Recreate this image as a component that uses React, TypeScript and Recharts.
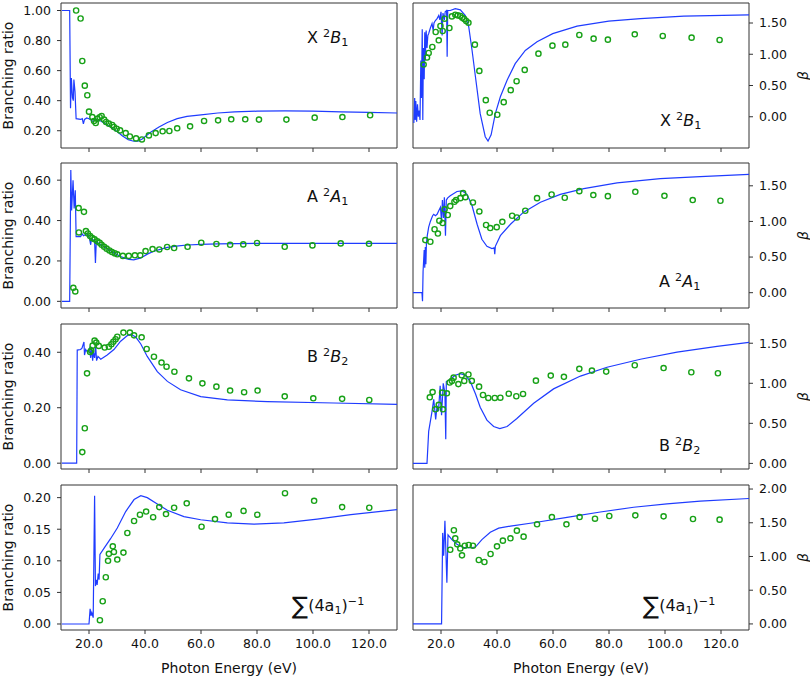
import React from 'react';
import { ComposedChart, Line, Scatter, XAxis, YAxis, ReferenceArea, Label } from 'recharts';

// ---------- Shared axis values ----------
const xTicks = [20, 40, 60, 80, 100, 120];
const xDomain = [10, 130];

// ---------- X 2B1 : branching ratio ----------
const xBrLine = [[10.3,1.0],[13.1,1.0],[13.4,0.35],[13.7,0.55],[14.1,0.42],[14.4,0.40],[14.6,0.54],[15.0,0.46],[15.4,0.28],[17.0,0.275],[17.6,0.28],[18.0,0.245],[18.4,0.275],[19.2,0.285],[20.0,0.28],[20.8,0.27],[21.5,0.26],[22.2,0.28],[23,0.27],[24.2,0.265],[26,0.245],[28,0.22],[30,0.195],[32,0.165],[34,0.14],[36,0.13],[37.5,0.13],[39,0.145],[42,0.19],[45,0.225],[48,0.255],[51.5,0.28],[55,0.295],[60,0.305],[66,0.318],[72,0.325],[80,0.33],[90,0.332],[100,0.33],[110,0.326],[120,0.322],[130,0.318]];
const xBrPts = [[15.4,1.0],[17.0,0.947],[17.6,0.664],[18.5,0.50],[19.4,0.436],[20.0,0.327],[21.2,0.291],[21.8,0.265],[22.4,0.251],[23.0,0.28],[23.8,0.29],[24.5,0.298],[25.4,0.274],[26.1,0.258],[27.1,0.247],[28.3,0.238],[28.9,0.225],[29.9,0.213],[31.1,0.202],[33.1,0.184],[34.6,0.162],[36.8,0.149],[38.9,0.142],[41.4,0.169],[43.8,0.184],[46.3,0.196],[48.7,0.198],[51.5,0.216],[56.1,0.229],[61.1,0.265],[66.1,0.269],[70.8,0.276],[75.8,0.276],[80.7,0.274],[90.5,0.274],[100.6,0.287],[110.5,0.291],[120.4,0.303]];
const xBrTicks = [0.2, 0.4, 0.6, 0.8, 1.0];

// ---------- X 2B1 : beta ----------
const xBetaLine = [[10.3,-0.1],[10.6,0.3],[10.8,-0.05],[11.0,0.25],[11.3,-0.08],[11.6,0.2],[11.9,0.0],[12.2,0.1],[12.5,-0.05],[12.8,0.9],[13.0,0.3],[13.3,1.4],[13.5,-0.05],[13.7,1.1],[14.0,0.6],[14.2,1.35],[14.4,0.9],[14.7,1.38],[15.0,1.1],[15.3,1.3],[15.6,1.33],[16.2,1.42],[16.8,1.49],[17.2,1.38],[17.5,1.5],[18.0,1.54],[18.6,1.57],[19.2,1.62],[19.6,1.55],[20.0,1.68],[20.4,1.3],[20.7,1.66],[21.2,1.55],[21.5,1.68],[22.0,1.70],[22.2,0.96],[22.4,1.70],[23.3,1.70],[25.1,1.73],[26.9,1.71],[28.7,1.62],[29.9,1.44],[31.1,1.06],[32.3,0.64],[34,0.05],[35.8,-0.32],[36.8,-0.39],[37.9,-0.29],[39.4,0.05],[41.2,0.32],[43.6,0.585],[46.5,0.85],[50.1,1.06],[54.3,1.2],[59.9,1.33],[68.6,1.45],[79.9,1.53],[91.2,1.57],[106.7,1.61],[130,1.63]];
const xBetaPts = [[13.8,0.835],[15.0,0.947],[15.6,1.02],[16.9,1.117],[18.1,1.356],[19.2,1.223],[19.8,1.452],[20.6,1.372],[21.3,1.569],[23.0,1.42],[23.9,1.606],[25.1,1.633],[26.0,1.622],[26.9,1.612],[27.6,1.585],[28.3,1.564],[29.0,1.532],[29.8,1.505],[32.1,1.154],[33.7,0.734],[36.0,0.266],[37.4,0.064],[40.1,0.032],[42.4,0.234],[44.9,0.426],[47.0,0.569],[49.9,0.75],[54.8,1.01],[59.8,1.138],[64.4,1.154],[69.4,1.309],[74.5,1.25],[79.6,1.234],[89.2,1.319],[99.2,1.293],[109.5,1.266],[119.5,1.229]];

// ---------- A 2A1 : branching ratio ----------
const aBrLine = [[10.3,0],[13.1,0],[13.5,0.65],[13.8,0.45],[14.3,0.60],[14.7,0.46],[15.1,0.55],[15.4,0.32],[17.0,0.32],[17.5,0.335],[18.0,0.325],[19.4,0.335],[20.2,0.31],[20.6,0.28],[20.9,0.31],[22.0,0.30],[22.3,0.19],[22.6,0.295],[24.2,0.28],[26,0.265],[27.7,0.25],[29.5,0.235],[31.3,0.222],[33,0.213],[34.3,0.208],[36,0.205],[38.5,0.215],[41,0.235],[43.2,0.248],[46,0.26],[48,0.267],[52,0.275],[55.1,0.279],[60,0.282],[66,0.285],[80,0.287],[100,0.287],[130,0.287]];
const aBrPts = [[14.4,0.067],[15.1,0.049],[16.3,0.462],[18.2,0.443],[16.4,0.341],[18.9,0.348],[19.6,0.336],[20.4,0.323],[21.2,0.313],[22.0,0.307],[23.0,0.297],[23.8,0.29],[24.5,0.28],[25.4,0.27],[26.3,0.261],[27.3,0.252],[28.2,0.244],[29.2,0.238],[30.1,0.233],[32.1,0.225],[34.2,0.225],[36.4,0.228],[38.3,0.228],[40.2,0.249],[42.7,0.259],[45.1,0.257],[47.9,0.269],[50.4,0.264],[55.2,0.27],[60.1,0.29],[65.5,0.284],[70.4,0.28],[75.1,0.282],[80.0,0.289],[89.9,0.27],[99.8,0.277],[109.9,0.287],[120.0,0.285]];
const aBrTicks = [0, 0.2, 0.4, 0.6];

// ---------- A 2A1 : beta ----------
const aBetaLine = [[10,0],[13.2,0],[13.4,-0.12],[13.6,0.3],[14.0,0.6],[14.2,0.35],[14.4,0.64],[14.6,0.4],[14.8,0.7],[15.1,0.8],[15.6,0.92],[16.2,1.0],[17.0,1.08],[17.4,1.10],[18.0,1.08],[18.6,1.10],[19.2,1.15],[19.8,1.2],[20.2,1.0],[20.5,1.3],[20.9,1.05],[21.2,1.34],[21.6,0.8],[21.9,1.3],[22.4,1.33],[23.3,1.36],[25.7,1.42],[27.5,1.43],[29.3,1.38],[31.1,1.22],[32.9,0.96],[34.6,0.75],[36.4,0.65],[38.2,0.62],[39.0,0.63],[39.2,0.54],[39.4,0.65],[41.2,0.80],[44.8,0.96],[49.5,1.13],[55.5,1.27],[62.6,1.38],[71,1.46],[82.9,1.54],[98.3,1.60],[112.6,1.63],[130,1.66]];
const aBetaPts = [[14.4,0.738],[16.2,0.715],[17.7,0.89],[18.9,0.83],[19.4,1.01],[20.6,0.977],[21.3,1.17],[22.4,1.09],[23.3,1.215],[24.8,1.276],[25.4,1.30],[26.9,1.327],[27.9,1.397],[28.7,1.34],[31.4,1.266],[33.7,1.14],[36.1,0.95],[37.6,0.907],[39.9,0.92],[41.9,0.995],[45.4,1.08],[47.1,1.056],[50.1,1.15],[54.3,1.327],[59.5,1.378],[64.2,1.332],[69.4,1.425],[74.4,1.37],[79.6,1.355],[89.4,1.416],[99.8,1.36],[109.9,1.30],[119.8,1.29]];

// ---------- B 2B2 : branching ratio ----------
const bBrLine = [[10.3,0],[15.6,0],[15.8,0.408],[17.0,0.41],[17.5,0.415],[18.2,0.437],[18.4,0.39],[18.8,0.41],[19.5,0.40],[20.2,0.415],[20.6,0.38],[20.9,0.42],[21.3,0.37],[21.6,0.40],[22.0,0.38],[22.4,0.42],[22.7,0.37],[23.2,0.385],[24.2,0.375],[26.5,0.39],[28.9,0.41],[31.3,0.44],[33.7,0.46],[34.9,0.465],[36.7,0.455],[38.5,0.43],[40.8,0.385],[44.4,0.33],[48,0.295],[52.7,0.265],[59.9,0.24],[69.4,0.228],[83.7,0.222],[107.5,0.217],[130,0.212]];
const bBrPts = [[17.6,0.040],[18.5,0.126],[19.3,0.324],[20.4,0.401],[20.8,0.406],[21.3,0.424],[22.0,0.442],[22.6,0.435],[23.5,0.423],[25.6,0.417],[27.1,0.42],[28.0,0.429],[28.7,0.438],[29.5,0.447],[30.1,0.456],[32.3,0.471],[34.6,0.471],[36.1,0.461],[38.8,0.454],[40.6,0.412],[43.2,0.384],[45.9,0.363],[47.7,0.348],[50.5,0.33],[55.7,0.306],[60.5,0.288],[65.5,0.276],[70.4,0.262],[75.4,0.256],[80.2,0.262],[89.9,0.241],[100.1,0.234],[110.4,0.232],[120.1,0.228]];
const bBrTicks = [0, 0.2, 0.4];

// ---------- B 2B2 : beta ----------
const bBetaLine = [[10,0],[15,0],[15.6,0.4],[16.8,0.65],[17.4,0.8],[18.1,0.55],[18.6,0.72],[19.1,0.65],[19.7,0.97],[20.2,0.6],[20.8,1.0],[21.4,0.88],[21.7,0.3],[21.9,1.02],[23.3,1.05],[25.1,1.10],[26.9,1.12],[28.7,1.10],[30.5,1.02],[32.3,0.87],[34,0.70],[36.4,0.54],[38.8,0.46],[41,0.435],[43.6,0.46],[47.1,0.56],[53.1,0.75],[60.2,0.93],[69.8,1.09],[79.3,1.20],[91.2,1.30],[104.3,1.39],[118.6,1.46],[130,1.51]];
const bBetaPts = [[16.0,0.825],[17.0,0.89],[18.0,0.675],[19.2,0.73],[20.4,0.883],[20.7,0.675],[22.1,0.875],[23.1,1.01],[23.9,1.03],[24.5,1.07],[26.2,0.99],[27.4,1.10],[28.3,1.03],[29.8,1.11],[31.0,1.03],[33.6,0.958],[35.0,0.854],[36.9,0.817],[39.2,0.817],[41.2,0.82],[44.2,0.87],[46.9,0.838],[49.3,0.867],[53.9,1.033],[59.2,1.096],[63.9,1.08],[69.4,1.18],[73.9,1.158],[79.0,1.146],[89.2,1.225],[99.5,1.19],[109.4,1.138],[118.9,1.125]];

// ---------- Sum (4a1)^-1 : branching ratio ----------
const sBrLine = [[10.3,0],[20.0,0],[20.4,0.024],[20.7,0.013],[21.0,0.018],[21.5,0.010],[22.0,0.203],[22.3,0.06],[22.6,0.07],[22.9,0.062],[23.3,0.08],[23.6,0.07],[23.9,0.11],[25.4,0.12],[27.7,0.135],[30.1,0.152],[33.1,0.178],[36.1,0.197],[38.5,0.203],[40.8,0.2],[44.4,0.19],[48,0.18],[53.9,0.17],[59.9,0.165],[69.4,0.16],[78.9,0.158],[89.6,0.16],[101.5,0.166],[113.5,0.173],[130,0.181]];
const sBrPts = [[23.9,0.006],[24.9,0.036],[26.0,0.074],[26.8,0.10],[27.1,0.111],[28.5,0.123],[28.9,0.114],[30.1,0.102],[32.3,0.113],[33.7,0.144],[36.1,0.163],[38.2,0.173],[40.4,0.178],[42.9,0.169],[45.1,0.185],[47.5,0.174],[50.4,0.184],[54.9,0.191],[60.2,0.154],[65.0,0.166],[69.9,0.173],[75.2,0.179],[80.1,0.173],[90.0,0.207],[100.4,0.195],[110.4,0.185],[120.1,0.184]];
const sBrTicks = [0, 0.05, 0.1, 0.15, 0.2];

// ---------- Sum (4a1)^-1 : beta ----------
const sBetaLine = [[10,0],[20.2,0],[20.6,1.35],[20.95,1.01],[21.4,1.53],[22.1,0.61],[22.5,1.32],[23.9,1.25],[25.7,1.18],[28.1,1.13],[30.5,1.13],[32.3,1.14],[34.6,1.25],[37.6,1.36],[40.6,1.42],[44.8,1.45],[53.1,1.50],[65,1.58],[76.9,1.66],[88.8,1.73],[100.7,1.78],[112.6,1.82],[130,1.86]];
const sBetaPts = [[23.3,1.10],[24.6,1.39],[25.1,1.27],[25.8,1.18],[26.9,1.12],[27.5,1.017],[28.5,1.16],[29.9,1.17],[31.4,1.16],[33.5,0.948],[35.5,0.918],[37.7,1.037],[40.0,1.15],[42.1,1.235],[44.8,1.27],[47.1,1.383],[49.5,1.294],[54.3,1.477],[59.6,1.585],[64.8,1.477],[69.5,1.585],[75.0,1.56],[80.1,1.60],[89.4,1.61],[99.5,1.595],[110.0,1.556],[119.5,1.546]];

const betaTicks = [0, 0.5, 1.0, 1.5];
const betaTicksS = [0, 0.5, 1.0, 1.5, 2.0];

const LINE = '#1f3cff';
const GREEN = '#17a117';
const FRAME = '#333333';
const TXT = '#111111';

const toPts = (a: number[][]) => a.map(([x, y]) => ({ x, y }));

const Ring = (props: any) => {
  const { cx, cy } = props;
  if (cx == null || cy == null) return null;
  return <circle cx={cx} cy={cy} r={2.6} fill="none" stroke={GREEN} strokeWidth={1.4} />;
};

const FRAME_H = 145;
const PLOT_W = 336;
const AXIS_W = 61;
const PAD_TOP = 8;

type PanelProps = {
  side: 'left' | 'right';
  top: number;
  bottom: boolean;
  line: number[][];
  pts: number[][];
  yDomain: number[];
  yTicks: number[];
};

function Panel({ side, top, bottom, line, pts, yDomain, yTicks }: PanelProps) {
  const xh = bottom ? 46 : 6;
  const height = PAD_TOP + FRAME_H + xh;
  const width = 2 + PLOT_W + AXIS_W;
  const left = side === 'left' ? 0 : 411;
  const margin = side === 'left'
    ? { top: PAD_TOP, right: 2, left: 0, bottom: 0 }
    : { top: PAD_TOP, right: 0, left: 2, bottom: 0 };
  return (
    <div style={{ position: 'absolute', left, top: top - PAD_TOP, width, height }}>
      <ComposedChart width={width} height={height} margin={margin}>
        <XAxis
          type="number"
          dataKey="x"
          domain={xDomain}
          ticks={xTicks}
          interval={0}
          allowDataOverflow
          axisLine={false}
          tickSize={4}
          tickMargin={5}
          tickLine={{ stroke: FRAME }}
          tick={{ fontSize: 12.5, fill: TXT }}
          tickFormatter={(v: number) => (bottom ? v.toFixed(1) : '')}
          height={xh}
        >
          {bottom ? (
            <Label value="Photon Energy (eV)" position="insideBottom" offset={3} style={{ fontSize: 14, fill: TXT }} />
          ) : null}
        </XAxis>
        <YAxis
          type="number"
          dataKey="y"
          orientation={side}
          domain={yDomain}
          ticks={yTicks}
          interval={0}
          allowDataOverflow
          axisLine={false}
          tickSize={4}
          tickMargin={6}
          tickLine={{ stroke: FRAME }}
          tick={{ fontSize: 12.5, fill: TXT }}
          tickFormatter={(v: number) => v.toFixed(2)}
          width={AXIS_W}
        >
          {side === 'left' ? (
            <Label value="Branching ratio" angle={-90} position="insideLeft" offset={8} style={{ textAnchor: 'middle', fontSize: 14, fill: TXT }} />
          ) : (
            <Label value="β" angle={-90} position="insideRight" offset={7} style={{ textAnchor: 'middle', fontSize: 14, fontStyle: 'italic', fill: TXT }} />
          )}
        </YAxis>
        <Line
          data={toPts(line)}
          dataKey="y"
          type="linear"
          stroke={LINE}
          strokeWidth={1.2}
          dot={false}
          activeDot={false}
          isAnimationActive={false}
        />
        <Scatter data={toPts(pts)} dataKey="y" shape={Ring} isAnimationActive={false} />
        <ReferenceArea
          x1={xDomain[0]}
          x2={xDomain[1]}
          y1={yDomain[0]}
          y2={yDomain[1]}
          fill="none"
          fillOpacity={0}
          stroke={FRAME}
          strokeWidth={1}
          ifOverflow="visible"
        />
      </ComposedChart>
    </div>
  );
}

const stateLabel = (letter: string, sym: string, sub: string) => (
  <span>
    {letter} <span style={{ fontSize: '0.7em', verticalAlign: '0.55em' }}>2</span>
    <i>{sym}</i>
    <span style={{ fontSize: '0.7em', verticalAlign: '-0.3em' }}>{sub}</span>
  </span>
);

const sumLabel = (
  <span>
    <span style={{ fontSize: 24, verticalAlign: '-0.12em' }}>∑</span>(4a
    <span style={{ fontSize: '0.7em', verticalAlign: '-0.3em' }}>1</span>)
    <span style={{ fontSize: '0.7em', verticalAlign: '0.55em' }}>−1</span>
  </span>
);

const Ann = ({ left, cy, children }: { left: number; cy: number; children: any }) => (
  <div style={{ position: 'absolute', left, top: cy - 10, height: 20, lineHeight: '20px', fontSize: 16, color: TXT, whiteSpace: 'nowrap' }}>
    {children}
  </div>
);

export default function App() {
  const tops = [3, 163, 324, 485];
  return (
    <div style={{ position: 'absolute', left: 0, top: 0, width: 810, height: 676, background: '#fff', fontFamily: '"DejaVu Sans", sans-serif' }}>
      <Panel side="left" top={tops[0]} bottom={false} line={xBrLine} pts={xBrPts} yDomain={[0.085, 1.05]} yTicks={xBrTicks} />
      <Panel side="right" top={tops[0]} bottom={false} line={xBetaLine} pts={xBetaPts} yDomain={[-0.5, 1.82]} yTicks={betaTicks} />
      <Panel side="left" top={tops[1]} bottom={false} line={aBrLine} pts={aBrPts} yDomain={[-0.033, 0.685]} yTicks={aBrTicks} />
      <Panel side="right" top={tops[1]} bottom={false} line={aBetaLine} pts={aBetaPts} yDomain={[-0.215, 1.82]} yTicks={betaTicks} />
      <Panel side="left" top={tops[2]} bottom={false} line={bBrLine} pts={bBrPts} yDomain={[-0.021, 0.502]} yTicks={bBrTicks} />
      <Panel side="right" top={tops[2]} bottom={false} line={bBetaLine} pts={bBetaPts} yDomain={[-0.07, 1.74]} yTicks={betaTicks} />
      <Panel side="left" top={tops[3]} bottom={true} line={sBrLine} pts={sBrPts} yDomain={[-0.0095, 0.22]} yTicks={sBrTicks} />
      <Panel side="right" top={tops[3]} bottom={true} line={sBetaLine} pts={sBetaPts} yDomain={[-0.09, 2.06]} yTicks={betaTicksS} />

      <Ann left={307} cy={34}>{stateLabel('X', 'B', '1')}</Ann>
      <Ann left={660} cy={117}>{stateLabel('X', 'B', '1')}</Ann>
      <Ann left={307} cy={193}>{stateLabel('A', 'A', '1')}</Ann>
      <Ann left={659} cy={278}>{stateLabel('A', 'A', '1')}</Ann>
      <Ann left={307} cy={353}>{stateLabel('B', 'B', '2')}</Ann>
      <Ann left={659} cy={442}>{stateLabel('B', 'B', '2')}</Ann>
      <Ann left={292} cy={602}>{sumLabel}</Ann>
      <Ann left={643} cy={602}>{sumLabel}</Ann>
    </div>
  );
}
